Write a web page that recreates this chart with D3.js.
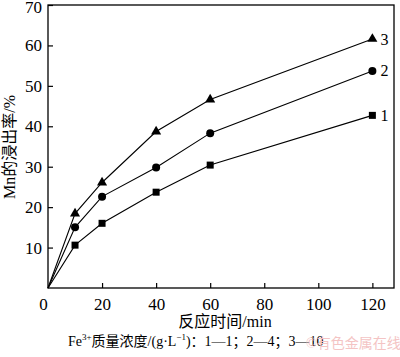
<!DOCTYPE html>
<html><head><meta charset="utf-8">
<script src="https://cdn.jsdelivr.net/npm/d3@7"></script>
<style>
html,body{margin:0;padding:0;background:#fff;}
svg{display:block;}
text{font-family:"Liberation Serif","Noto Sans CJK SC",serif;fill:#000;}
</style></head>
<body>
<script>
const times = [0, 10, 20, 40, 60, 120];
const series1 = [0, 10.6, 16.0, 23.7, 30.4, 42.7];
const series2 = [0, 15.0, 22.6, 29.8, 38.3, 53.7];
const series3 = [0, 18.4, 26.1, 38.7, 46.6, 61.6];
const seriesNames = ["1", "2", "3"];
const seriesMarkers = ["square", "circle", "triangle"];
const xTicks = [0, 20, 40, 60, 80, 100, 120];
const yTicks = [10, 20, 30, 40, 50, 60, 70];
const xLabel = "反应时间/min";
const yLabel = "Mn的浸出率/%";

const W = 400, H = 357;
const m = {left: 48, right: 394, top: 5, bottom: 288};
const svg = d3.select("body").append("svg").attr("width", W).attr("height", H);

const x = d3.scaleLinear().domain([0, 128]).range([m.left, m.right]);
const y = d3.scaleLinear().domain([0, 70]).range([m.bottom, m.top]);

// frame
svg.append("rect").attr("x", m.left).attr("y", m.top)
  .attr("width", m.right - m.left).attr("height", m.bottom - m.top)
  .attr("fill", "none").attr("stroke", "#000").attr("stroke-width", 1.3);

// x axis
const gx = svg.append("g").attr("transform", `translate(0,${m.bottom})`)
  .call(d3.axisBottom(x).tickValues(xTicks).tickSize(-5).tickPadding(10).tickFormat(d3.format("d")));
gx.select(".domain").remove();
gx.selectAll(".tick line").attr("stroke", "#000").attr("stroke-width", 1.2);
gx.selectAll(".tick text").attr("font-size", 17).attr("font-family", "Liberation Serif");
gx.selectAll(".tick").filter(d => d === 0).select("line").remove();
gx.selectAll(".tick").filter(d => d === 0).select("text").attr("dx", -5);

// y axis
const gy = svg.append("g").attr("transform", `translate(${m.left},0)`)
  .call(d3.axisLeft(y).tickValues(yTicks).tickSize(-5).tickPadding(6).tickFormat(d3.format("d")));
gy.select(".domain").remove();
gy.selectAll(".tick line").attr("stroke", "#000").attr("stroke-width", 1.2);
gy.selectAll(".tick text").attr("font-size", 17).attr("font-family", "Liberation Serif");
gy.selectAll(".tick").filter(d => d === 70).select("text").attr("dy", "0.45em");

// axis labels
svg.append("text").attr("x", 225).attr("y", 327).attr("text-anchor", "middle")
  .attr("font-size", 16).text(xLabel);
svg.append("text").attr("transform", `translate(15,147) rotate(-90)`).attr("text-anchor", "middle")
  .attr("font-size", 16).text(yLabel);

// series
const all = [series1, series2, series3];
const line = d3.line().x((d, i) => x(times[i])).y(d => y(d));
all.forEach((s, k) => {
  svg.append("path").datum(s).attr("d", line).attr("fill", "none")
    .attr("stroke", "#000").attr("stroke-width", 1.1);
  const pts = s.map((v, i) => ({t: times[i], v})).filter(p => p.t > 0);
  const g = svg.append("g");
  if (seriesMarkers[k] === "square") {
    g.selectAll("rect").data(pts).join("rect")
      .attr("x", p => x(p.t) - 3.5).attr("y", p => y(p.v) - 3.5)
      .attr("width", 7).attr("height", 7).attr("fill", "#000");
  } else if (seriesMarkers[k] === "circle") {
    g.selectAll("circle").data(pts).join("circle")
      .attr("cx", p => x(p.t)).attr("cy", p => y(p.v)).attr("r", 4).attr("fill", "#000");
  } else {
    const tri = d3.symbol().type(d3.symbolTriangle).size(44);
    g.selectAll("path").data(pts).join("path")
      .attr("transform", p => `translate(${x(p.t)},${y(p.v)})`).attr("d", tri).attr("fill", "#000");
  }
  const last = s[s.length - 1];
  svg.append("text").attr("x", x(times[times.length - 1]) + 8).attr("y", y(last))
    .attr("dy", "0.35em").attr("font-size", 16).text(seriesNames[k]);
});

// caption
const cap = svg.append("text").attr("x", 68).attr("y", 346).attr("font-size", 14);
cap.append("tspan").text("Fe");
cap.append("tspan").attr("font-size", 9).attr("dy", -6).text("3+");
cap.append("tspan").attr("dy", 6).text("质量浓度/(g·L");
cap.append("tspan").attr("font-size", 9).attr("dy", -6).text("−1");
cap.append("tspan").attr("dy", 6).text(")：1—1；2—4；3—10");

// watermark
svg.append("text").attr("x", 306).attr("y", 348).attr("font-size", 14)
  .style("fill", "#f4c4c4").attr("font-family", "Noto Sans CJK SC").text("©有色金属在线");
</script>
</body></html>
